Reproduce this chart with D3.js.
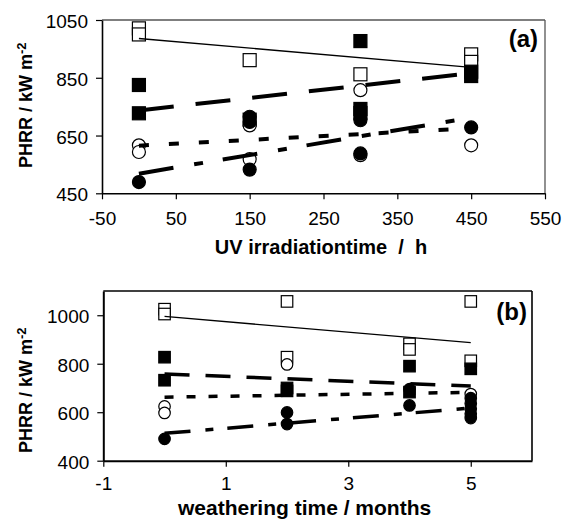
<!DOCTYPE html>
<html>
<head>
<meta charset="utf-8">
<script src="https://cdn.jsdelivr.net/npm/d3@7"></script>
<style>
  html, body { margin: 0; padding: 0; background: #fff; }
  svg { display: block; font-family: "Liberation Sans", Arial, Helvetica, sans-serif; }
</style>
</head>
<body>
<svg id="chart" width="563" height="522"></svg>
<script>
// ---------- DATA ----------
// Panel (a): UV irradiation time (h)
const uvTicksX = [-50, 50, 150, 250, 350, 450, 550];
const uvTicksY = [450, 650, 850, 1050];
const uvOpenSquares   = [[0,1021],[0,1000],[150,911],[300,862],[450,931],[450,905]];
const uvFilledSquares = [[0,825],[0,727],[150,705],[300,977],[300,742],[300,728],[450,871],[450,856]];
const uvOpenCircles   = [[0,616],[0,593],[150,685],[150,568],[300,807],[300,582],[450,616]];
const uvFilledCircles = [[0,489],[150,715],[150,697],[150,532],[300,703],[300,588],[450,678]];
// trend lines: [xStart, yStart, xEnd, yEnd]
const uvTrendOpenSquares   = [0, 986, 450, 886];
const uvTrendFilledSquares = [0, 737, 450, 866];
const uvTrendOpenCircles   = [0, 615, 450, 675];
const uvTrendFilledCircles = [0, 518, 450, 712];

// Panel (b): weathering time (months)
const wTicksX = [-1, 1, 3, 5];
const wTicksY = [400, 600, 800, 1000];
const wOpenSquares   = [[0,1025],[0,1005],[2,1057],[2,827],[4,882],[4,859],[5,1057],[5,812]];
const wFilledSquares = [[0,827],[0,732],[2,700],[2,688],[4,790],[4,683],[5,779]];
const wOpenCircles   = [[0,624],[0,597],[2,797],[5,675]];
const wFilledCircles = [[0,490],[2,599],[2,551],[4,695],[4,628],[5,658],[5,636],[5,614],[5,594],[5,576]];
const wTrendOpenSquares   = [0, 995, 5, 887];
const wTrendFilledSquares = [0, 758, 5, 708];
const wTrendOpenCircles   = [0, 662, 5, 682];
const wTrendFilledCircles = [0, 513, 5, 617];

// ---------- DRAWING ----------
const svg = d3.select("#chart");
svg.append("rect").attr("width", 563).attr("height", 522).attr("fill", "#fff");

function panel(cfg) {
  const x = d3.scaleLinear().domain(cfg.xDomain).range([cfg.left, cfg.right]);
  const y = d3.scaleLinear().domain(cfg.yDomain).range([cfg.bottom, cfg.top]);
  const g = svg.append("g");

  // box top/right
  g.append("line").attr("x1", cfg.left).attr("x2", cfg.right).attr("y1", cfg.top).attr("y2", cfg.top)
    .attr("stroke", cfg.boxColor).attr("stroke-width", cfg.boxWidth);
  g.append("line").attr("x1", cfg.right).attr("x2", cfg.right).attr("y1", cfg.top).attr("y2", cfg.bottom)
    .attr("stroke", cfg.boxColor).attr("stroke-width", cfg.boxWidth);

  // markers
  const s = cfg.markerSize;
  function squares(data, filled) {
    g.append("g").selectAll("rect").data(data).join("rect")
      .attr("x", d => x(d[0]) - s / 2).attr("y", d => y(d[1]) - s / 2)
      .attr("width", s).attr("height", s)
      .attr("fill", filled ? "#000" : "#fff").attr("stroke", "#000").attr("stroke-width", 1.2);
  }
  function circles(data, filled) {
    g.append("g").selectAll("circle").data(data).join("circle")
      .attr("cx", d => x(d[0])).attr("cy", d => y(d[1])).attr("r", s / 2)
      .attr("fill", filled ? "#000" : "#fff").attr("stroke", "#000").attr("stroke-width", 1.2);
  }
  squares(cfg.openSquares, false);
  squares(cfg.filledSquares, true);
  circles(cfg.openCircles, false);
  circles(cfg.filledCircles, true);

  // trend lines
  function trend(t, width, dash) {
    g.append("line")
      .attr("x1", x(t[0])).attr("y1", y(t[1])).attr("x2", x(t[2])).attr("y2", y(t[3]))
      .attr("stroke", "#000").attr("stroke-width", width)
      .attr("stroke-dasharray", dash || null);
  }
  trend(cfg.trends[0], 1.3, null);
  trend(cfg.trends[1], cfg.dashWidth, cfg.dashes[0]);
  trend(cfg.trends[2], cfg.dashWidth, cfg.dashes[1]);
  trend(cfg.trends[3], cfg.dashWidth, cfg.dashes[2]);

  // axes
  const xa = g.append("g").attr("transform", `translate(0,${cfg.bottom})`)
    .call(d3.axisBottom(x).tickValues(cfg.xTicks).tickSize(6).tickSizeOuter(0).tickPadding(cfg.xPad).tickFormat(d3.format("d")));
  const ya = g.append("g").attr("transform", `translate(${cfg.left},0)`)
    .call(d3.axisLeft(y).tickValues(cfg.yTicks).tickSize(6).tickSizeOuter(0).tickPadding(8).tickFormat(d3.format("d")));
  [xa, ya].forEach(a => {
    a.select(".domain").attr("stroke", "#000").attr("stroke-width", cfg.axisWidth);
    a.selectAll(".tick line").attr("stroke", "#000").attr("stroke-width", 1.2);
    a.selectAll(".tick text").attr("fill", "#000").style("font-size", "19px")
      .style("font-family", '"Liberation Sans", Arial, sans-serif');
  });
  ya.selectAll(".tick text").attr("dy", "0.4em");
  xa.selectAll(".tick text").text(d => d < 0 ? "-" + Math.abs(d) : d);

  // panel letter
  g.append("text").attr("x", cfg.letterX).attr("y", cfg.letterY).attr("text-anchor", "end")
    .style("font-size", "24px").style("font-weight", "bold").text(cfg.letter);

  // y label
  const yl = g.append("text").attr("transform", `translate(32,${cfg.yLabelStart}) rotate(-90)`)
    .attr("text-anchor", "start").style("font-size", "18px").style("font-weight", "bold");
  yl.append("tspan").text("PHRR / kW m");
  yl.append("tspan").attr("dy", "-0.45em").style("font-size", "13px").text("-2");

  // x label
  g.append("text").attr("x", cfg.xLabelX).attr("y", cfg.xLabelY).attr("text-anchor", cfg.xLabelAnchor)
    .attr("xml:space", "preserve").style("white-space", "pre")
    .style("font-size", cfg.xLabelSize).style("font-weight", "bold").text(cfg.xLabel);
}

panel({
  left: 102, right: 545, top: 20, bottom: 193.3,
  xDomain: [-50, 550], yDomain: [450, 1050],
  xTicks: uvTicksX, yTicks: uvTicksY, xPad: 12,
  boxColor: "#555", boxWidth: 1.3, axisWidth: 1.6,
  markerSize: 13,
  openSquares: uvOpenSquares, filledSquares: uvFilledSquares,
  openCircles: uvOpenCircles, filledCircles: uvFilledCircles,
  trends: [uvTrendOpenSquares, uvTrendFilledSquares, uvTrendOpenCircles, uvTrendFilledCircles],
  dashWidth: 4, dashes: ["35,22", "10,20", "35,21,9,20"],
  letter: "(a)", letterX: 538, letterY: 47,
  yLabelStart: 168,
  xLabel: "UV irradiationtime  /  h", xLabelX: 321, xLabelY: 254, xLabelAnchor: "middle", xLabelSize: "20px"
});

panel({
  left: 103.3, right: 532, top: 291, bottom: 460.7,
  xDomain: [-1, 6], yDomain: [400, 1100],
  xTicks: wTicksX, yTicks: wTicksY, xPad: 10,
  boxColor: "#000", boxWidth: 1.6, axisWidth: 2,
  markerSize: 11.5,
  openSquares: wOpenSquares, filledSquares: wFilledSquares,
  openCircles: wOpenCircles, filledCircles: wFilledCircles,
  trends: [wTrendOpenSquares, wTrendFilledSquares, wTrendOpenCircles, wTrendFilledCircles],
  dashWidth: 3.5, dashes: ["25,16", "9,13", "26,15,8,14"],
  letter: "(b)", letterX: 527, letterY: 320,
  yLabelStart: 453,
  xLabel: "weathering time / months", xLabelX: 178, xLabelY: 515, xLabelAnchor: "start", xLabelSize: "21px"
});
</script>
</body>
</html>
